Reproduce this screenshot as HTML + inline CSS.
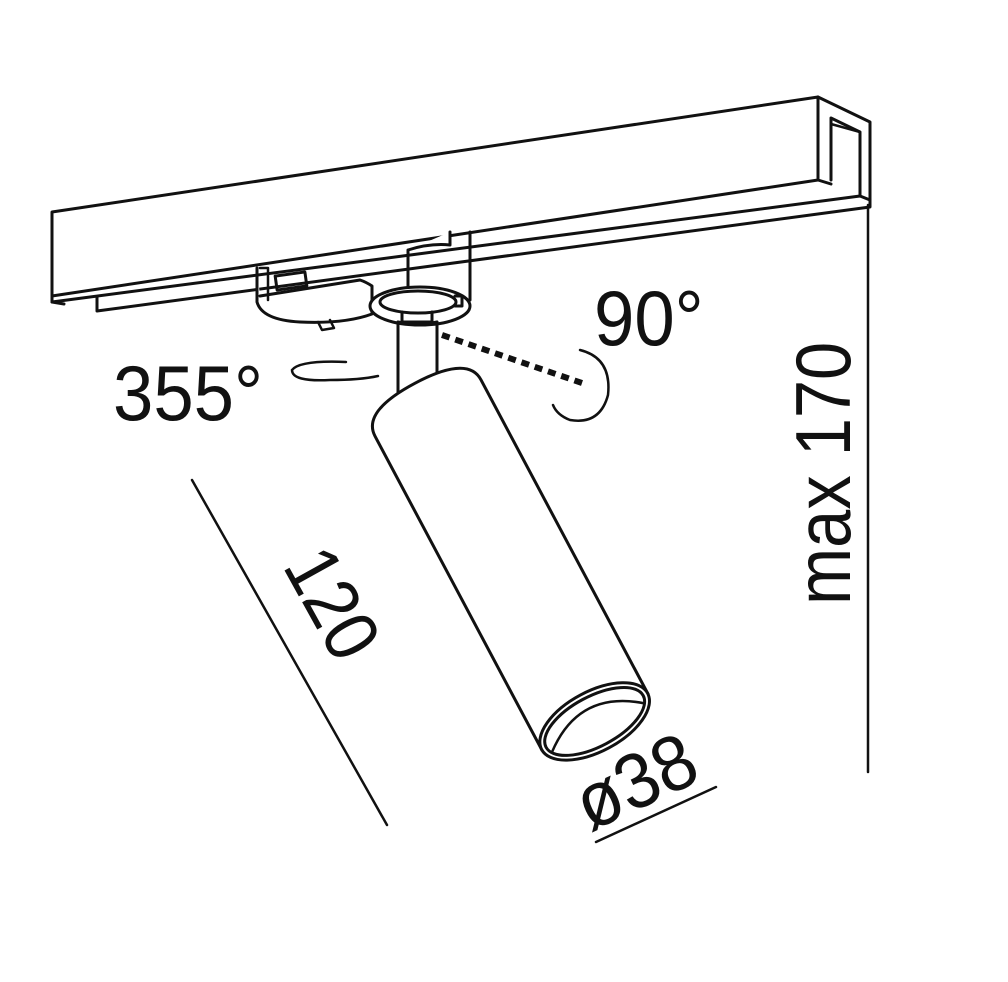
<!DOCTYPE html>
<html><head><style>
html,body{margin:0;padding:0;background:#fff;}
svg{display:block;}
text{font-family:"Liberation Sans",Arial,sans-serif;fill:#111;}
</style></head><body>
<svg width="1008" height="982" viewBox="0 0 1008 982" xmlns="http://www.w3.org/2000/svg">
<g fill="none" stroke="#111" stroke-width="3" stroke-linejoin="round" stroke-linecap="round">
  <path d="M52,212 L818,97 L818,180 L52,296 Z" fill="#fff"/>
  <path d="M818,97 L870,122 L870,200"/>
  <path d="M831,180 L831,118 L860,132 L860,195"/>
  <path d="M831,124 L860,132" stroke-width="2.5"/>
  <path d="M818,180 L831,184"/>
  <path d="M52,296 L52,302 L860,196 L870,200"/>
  <path d="M52,302 L64,304"/>
  <path d="M97,297 L97,311 L870,207 L870,200"/>
  <path d="M408,250 L408,305 M470,232 L470,300 M408,250 Q430,243 450,245 L450,232" fill="#fff"/>
  <path d="M257,268 L257,302 Q262,320 300,322 Q345,324 372,314 L372,286 Q366,282 360,280 L260,296" fill="#fff"/>
  <path d="M260,268 L268,268 L268,300" stroke-width="2.5"/>
  <rect x="276" y="274" width="30" height="14" transform="rotate(-8 291 281)"/>
  <path d="M318,322 L322,330 L334,328 L330,320" stroke-width="2.5"/>
  <ellipse cx="420" cy="306" rx="50" ry="19" fill="#fff"/>
  <ellipse cx="418" cy="302" rx="38" ry="11"/>
  <path d="M455,296 L462,296 L462,306 L455,306"/>
  <path d="M398,322 L398,395 M437,322 L437,380" fill="#fff"/>
  <path d="M402,312 L402,322 L432,322 L432,312" />
  <path d="M398,322 Q418,326 437,322"/>
</g>
<g transform="translate(428,408) rotate(-28)" fill="none" stroke="#111" stroke-width="3">
  <path d="M-60,0 Q-60,-28 0,-28 Q60,-28 60,0 L60,355 L-60,355 Z" fill="#fff"/>
  <ellipse cx="0" cy="355" rx="60" ry="30" fill="#fff"/>
  <ellipse cx="0" cy="355" rx="55" ry="25"/>
  <path d="M-52,362 Q0,320 52,362" stroke-width="2.5"/>
</g>
<g fill="none" stroke="#111" stroke-width="2.5" stroke-linecap="round">
  <path d="M346,362 Q300,360 292,370 Q292,382 330,380 Q360,380 378,376"/>
  <path d="M580,350 Q612,358 608,395 Q600,425 570,420 Q557,415 553,405"/>
  <line x1="192" y1="480" x2="387" y2="825"/>
  <line x1="596" y1="842" x2="716" y2="787"/>
  <line x1="868" y1="205" x2="868" y2="772"/>
</g>
<line x1="442" y1="335" x2="582" y2="383" stroke="#111" stroke-width="6" stroke-dasharray="8,6"/>
<text transform="translate(113,420) scale(0.93,1)" font-size="78">355°</text>
<text transform="translate(594,345) scale(0.93,1)" font-size="78">90°</text>
<text transform="translate(850,605) rotate(-90) scale(0.88,1)" font-size="78">max 170</text>
<text transform="translate(282,566) rotate(61) scale(0.9,1)" font-size="76">120</text>
<text transform="translate(590,832) rotate(-25) scale(0.93,1)" font-size="78">ø38</text>
</svg>
</body></html>
